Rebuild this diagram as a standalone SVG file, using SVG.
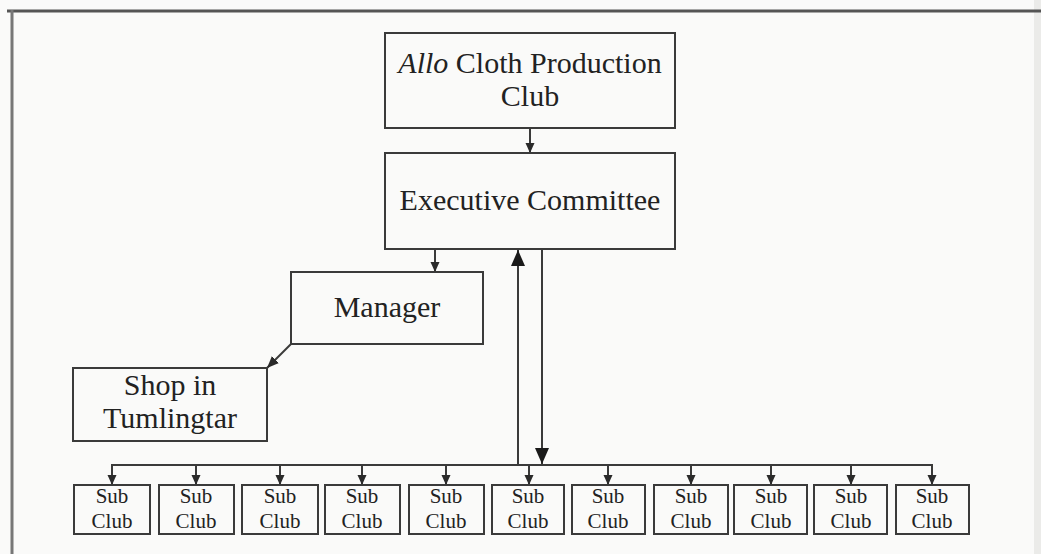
<svg xmlns="http://www.w3.org/2000/svg" width="1041" height="554" viewBox="0 0 1041 554">
<style>
.box{fill:none;stroke:#3a3a3a;stroke-width:2}
.t{font-family:"Liberation Serif","Times New Roman",serif;fill:#222;text-anchor:middle}
.big{font-size:30px}
.sm{font-size:21px}
.ln{fill:none;stroke:#3a3a3a;stroke-width:2}
</style>
<defs>
<marker id="ah" markerUnits="userSpaceOnUse" markerWidth="12" markerHeight="12" viewBox="0 0 12 12" refX="12" refY="6" orient="auto">
<path d="M0,1 L12,6 L0,11 Z" fill="#2a2a2a"/>
</marker>
<marker id="ahs" markerUnits="userSpaceOnUse" markerWidth="10" markerHeight="10" viewBox="0 0 10 10" refX="10" refY="5" orient="auto">
<path d="M0,0.5 L10,5 L0,9.5 Z" fill="#2a2a2a"/>
</marker>
<marker id="ahb" markerUnits="userSpaceOnUse" markerWidth="16" markerHeight="16" viewBox="0 0 16 16" refX="16" refY="8" orient="auto">
<path d="M0,1 L16,8 L0,15 Z" fill="#1a1a1a"/>
</marker>
</defs>
<rect x="0" y="0" width="1041" height="554" fill="#fafaf9"/>
<rect x="1034" y="0" width="7" height="554" fill="#ebebe9"/>
<g id="frame">
<line x1="7" y1="11" x2="1041" y2="11" stroke="#555" stroke-width="3"/>
<line x1="12" y1="10" x2="12" y2="554" stroke="#777" stroke-width="3"/>
</g>
<g id="connectors">
<line class="ln" x1="530" y1="128" x2="530" y2="153" marker-end="url(#ahs)"/>
<line class="ln" x1="435" y1="249" x2="435" y2="272" marker-end="url(#ahs)"/>
<line class="ln" x1="291" y1="344" x2="267" y2="368" marker-end="url(#ah)"/>
<line class="ln" x1="518" y1="465" x2="518" y2="250" marker-end="url(#ahb)"/>
<line class="ln" x1="542" y1="249" x2="542" y2="464" marker-end="url(#ahb)"/>
<line class="ln" x1="111" y1="465" x2="933" y2="465"/>
<g marker-end="url(#ahs)">
<line class="ln" x1="112" y1="465" x2="112" y2="485"/>
<line class="ln" x1="196" y1="465" x2="196" y2="485"/>
<line class="ln" x1="280" y1="465" x2="280" y2="485"/>
<line class="ln" x1="362" y1="465" x2="362" y2="485"/>
<line class="ln" x1="446" y1="465" x2="446" y2="485"/>
<line class="ln" x1="529" y1="465" x2="529" y2="485"/>
<line class="ln" x1="608" y1="465" x2="608" y2="485"/>
<line class="ln" x1="691" y1="465" x2="691" y2="485"/>
<line class="ln" x1="771" y1="465" x2="771" y2="485"/>
<line class="ln" x1="851" y1="465" x2="851" y2="485"/>
<line class="ln" x1="932" y1="465" x2="932" y2="485"/>
</g>
</g>
<g id="allo">
<rect class="box" x="385" y="33" width="290" height="95"/>
<text class="t big" x="530" y="73"><tspan font-style="italic">Allo</tspan> Cloth Production</text>
<text class="t big" x="530" y="106">Club</text>
</g>
<g id="exec">
<rect class="box" x="385" y="153" width="290" height="96"/>
<text class="t big" x="530" y="210">Executive Committee</text>
</g>
<g id="manager">
<rect class="box" x="291" y="272" width="192" height="72"/>
<text class="t big" x="387" y="317">Manager</text>
</g>
<g id="shop">
<rect class="box" x="73" y="368" width="194" height="73"/>
<text class="t big" x="170" y="395">Shop in</text>
<text class="t big" x="170" y="428">Tumlingtar</text>
</g>
<g id="sub1"><rect class="box" x="74" y="485" width="76" height="49"/><text class="t sm" x="112" y="503">Sub</text><text class="t sm" x="112" y="528">Club</text></g>
<g id="sub2"><rect class="box" x="159" y="485" width="75" height="49"/><text class="t sm" x="196" y="503">Sub</text><text class="t sm" x="196" y="528">Club</text></g>
<g id="sub3"><rect class="box" x="242" y="485" width="76" height="49"/><text class="t sm" x="280" y="503">Sub</text><text class="t sm" x="280" y="528">Club</text></g>
<g id="sub4"><rect class="box" x="325" y="485" width="75" height="49"/><text class="t sm" x="362" y="503">Sub</text><text class="t sm" x="362" y="528">Club</text></g>
<g id="sub5"><rect class="box" x="409" y="485" width="75" height="49"/><text class="t sm" x="446" y="503">Sub</text><text class="t sm" x="446" y="528">Club</text></g>
<g id="sub6"><rect class="box" x="492" y="485" width="72" height="49"/><text class="t sm" x="528" y="503">Sub</text><text class="t sm" x="528" y="528">Club</text></g>
<g id="sub7"><rect class="box" x="572" y="485" width="73" height="49"/><text class="t sm" x="608" y="503">Sub</text><text class="t sm" x="608" y="528">Club</text></g>
<g id="sub8"><rect class="box" x="654" y="485" width="74" height="49"/><text class="t sm" x="691" y="503">Sub</text><text class="t sm" x="691" y="528">Club</text></g>
<g id="sub9"><rect class="box" x="734" y="485" width="73" height="49"/><text class="t sm" x="771" y="503">Sub</text><text class="t sm" x="771" y="528">Club</text></g>
<g id="sub10"><rect class="box" x="814" y="485" width="73" height="49"/><text class="t sm" x="851" y="503">Sub</text><text class="t sm" x="851" y="528">Club</text></g>
<g id="sub11"><rect class="box" x="896" y="485" width="73" height="49"/><text class="t sm" x="932" y="503">Sub</text><text class="t sm" x="932" y="528">Club</text></g>
</svg>
